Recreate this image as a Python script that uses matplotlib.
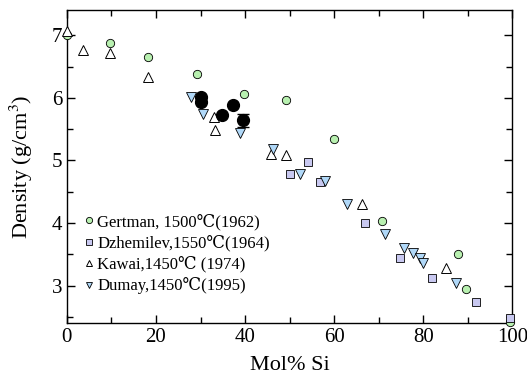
import matplotlib
matplotlib.use('Agg')
import matplotlib.pyplot as plt
from matplotlib.ticker import MultipleLocator

plt.rcParams['font.family'] = ['Liberation Serif', 'DejaVu Serif', 'Noto Sans CJK JP']
plt.rcParams['mathtext.fontset'] = 'stix'

# Gertman, 1500C (1962)
gert_x = [0.0, 9.7, 18.3, 29.1, 39.7, 49.3, 59.9, 70.8, 87.8, 89.7, 99.6]
gert_y = [7.00, 6.88, 6.66, 6.38, 6.06, 5.97, 5.34, 4.04, 3.50, 2.95, 2.42]

# Dzhemilev, 1550C (1964)
dzh_x = [50.1, 54.1, 56.8, 66.9, 74.7, 82.0, 91.8, 99.6]
dzh_y = [4.78, 4.98, 4.66, 4.01, 3.45, 3.13, 2.74, 2.48]

# Kawai, 1450C (1974)
kaw_x = [0.1, 3.7, 9.6, 18.2, 33.1, 33.3, 45.9, 49.3, 66.3, 85.2]
kaw_y = [7.06, 6.76, 6.72, 6.33, 5.70, 5.49, 5.10, 5.08, 4.30, 3.29]

# Dumay, 1450C (1995)
dum_x = [27.9, 30.6, 38.9, 46.3, 52.3, 58.0, 62.9, 71.4, 75.8, 77.7, 79.2, 79.9, 87.3]
dum_y = [6.01, 5.75, 5.44, 5.19, 4.79, 4.68, 4.30, 3.83, 3.61, 3.53, 3.45, 3.36, 3.04]

# unlabelled measurements with error bars
meas_x = [30.1, 30.1, 34.8, 37.3, 39.6]
meas_y = [6.02, 5.94, 5.72, 5.88, 5.64]
meas_err = [0.0, 0.0, 0.0, 0.0, 0.1]

fig, ax = plt.subplots(figsize=(5.27, 3.76), dpi=100)
fig.subplots_adjust(left=0.127, right=0.972, top=0.973, bottom=0.14)

ms = 6
ax.plot(gert_x, gert_y, 'o', ms=ms, mfc='#b8f0b0', mec='black', mew=0.6,
        label='Gertman, 1500℃(1962)', clip_on=False, zorder=3)
ax.plot(dzh_x, dzh_y, 's', ms=ms - 0.5, mfc='#c8c8f0', mec='black', mew=0.6,
        label='Dzhemilev,1550℃(1964)', clip_on=False, zorder=3)
ax.plot(kaw_x, kaw_y, '^', ms=ms + 0.5, mfc='white', mec='black', mew=0.7,
        label='Kawai,1450℃ (1974)', clip_on=False, zorder=3)
ax.plot(dum_x, dum_y, 'v', ms=ms + 0.5, mfc='#b0d8f8', mec='black', mew=0.6,
        label='Dumay,1450℃(1995)', clip_on=False, zorder=3)
ax.errorbar(meas_x, meas_y, yerr=meas_err, fmt='o', ms=8.5, color='black',
            capsize=4, elinewidth=1, zorder=4)

ax.set_xlim(0, 100)
ax.set_ylim(2.4, 7.4)
ax.xaxis.set_major_locator(MultipleLocator(20))
ax.xaxis.set_minor_locator(MultipleLocator(10))
ax.yaxis.set_major_locator(MultipleLocator(1))
ax.yaxis.set_minor_locator(MultipleLocator(0.5))
ax.tick_params(which='both', direction='in', top=True, right=True,
               labelsize=15, width=1)
ax.tick_params(which='major', length=6)
ax.tick_params(which='minor', length=4)
for s in ax.spines.values():
    s.set_linewidth(1)

ax.set_xlabel('Mol% Si', fontsize=16, labelpad=6)
ax.set_ylabel('Density (g/cm$^3$)', fontsize=16, labelpad=12)

ax.legend(loc='lower left', bbox_to_anchor=(0.012, 0.055), frameon=False,
          fontsize=12, handletextpad=0.2, labelspacing=0.28,
          markerscale=0.75, handlelength=0.6, borderaxespad=0.3)

fig.savefig('out.png', dpi=100)
